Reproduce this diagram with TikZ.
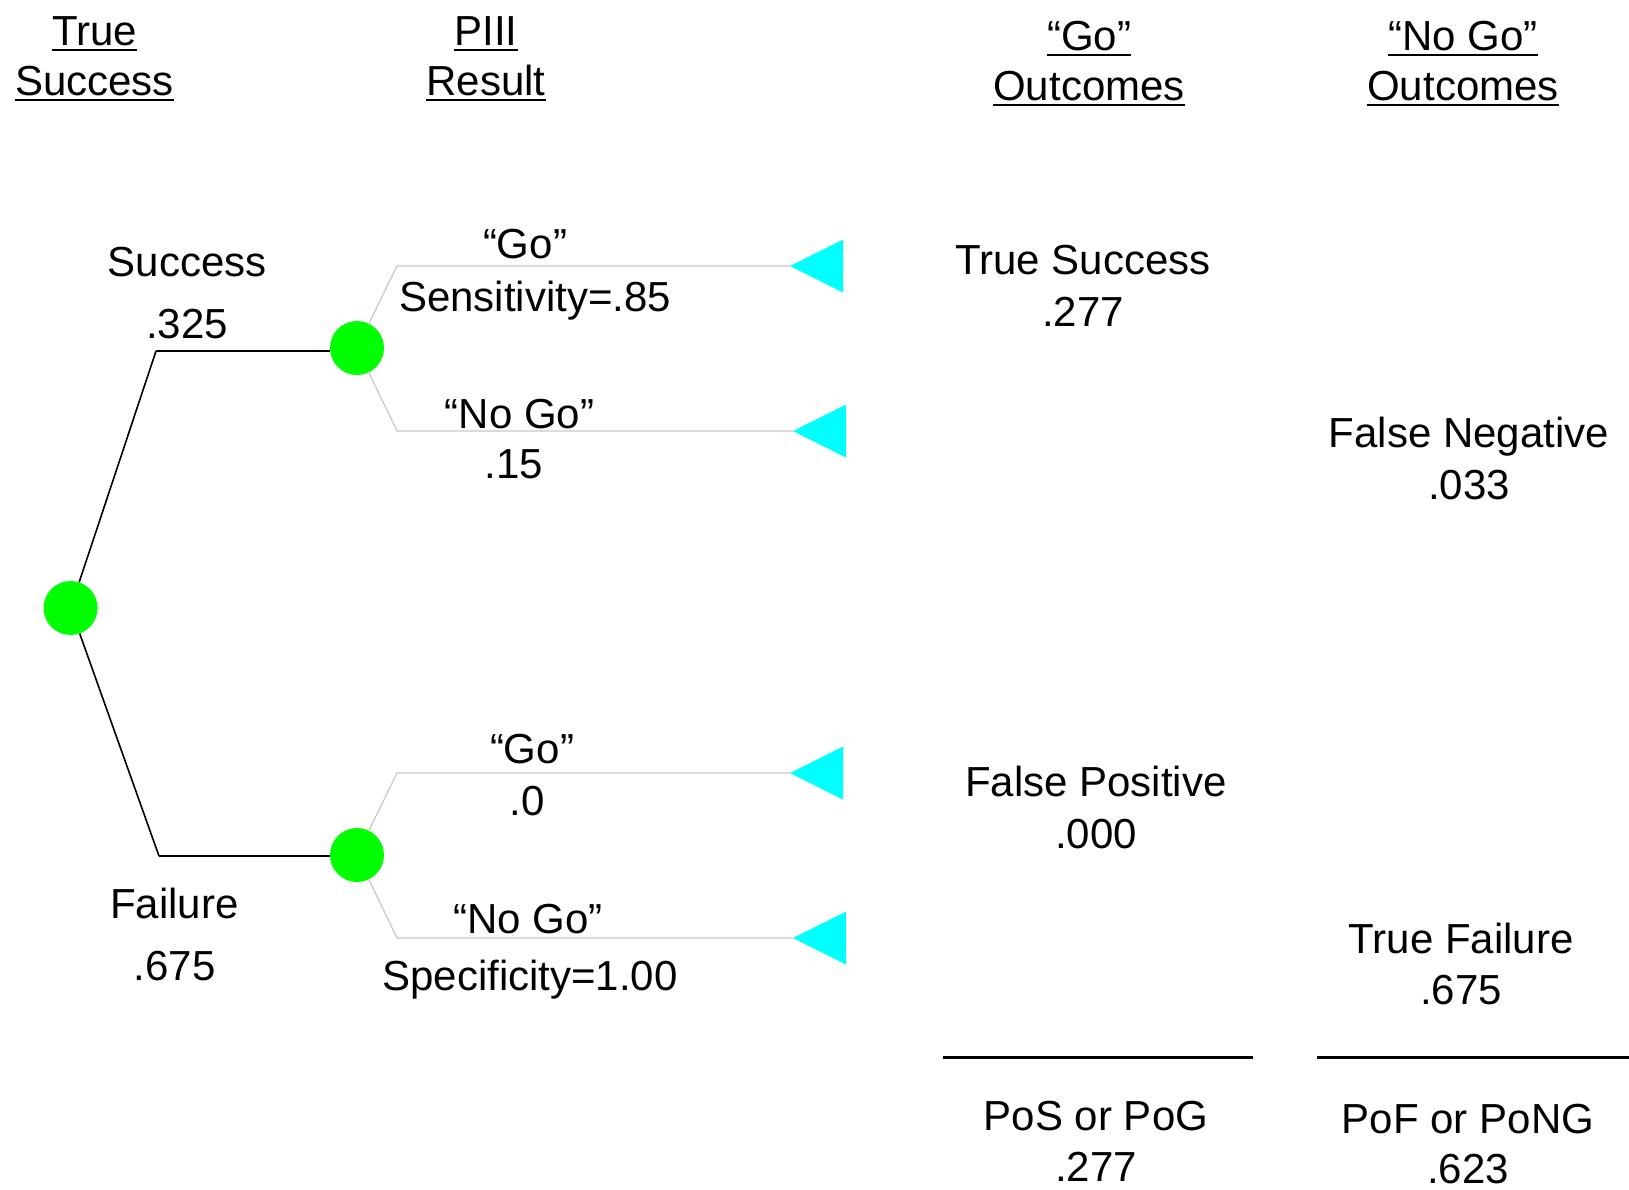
\documentclass[tikz,border=0pt]{standalone}
\usepackage{fontspec}
\setmainfont{Liberation Sans}
\definecolor{nodegreen}{HTML}{00FF00}
\definecolor{endcyan}{HTML}{00FFFF}
\definecolor{branchgray}{HTML}{C8C8C8}
\begin{document}
\begin{tikzpicture}[x=1pt,y=-1pt,
  every node/.style={font=\fontsize{42}{50}\selectfont, inner sep=0pt, anchor=base},
  chance/.style={circle, fill=nodegreen, minimum size=54pt, inner sep=0pt, anchor=center},
  mainline/.style={black, line width=2.6pt},
  slantline/.style={black, line width=1.6pt},
  branch/.style={branchgray, line width=1.2pt},
  endtri/.style={fill=endcyan},
  uline/.style={black, line width=2.6pt},
  sumline/.style={black, line width=3pt}]
\fill[white] (0,0) rectangle (1629,1189);
\useasboundingbox (0,0) rectangle (1629,1189);

% headers
\node (h1a) at (94.5,45) {True};
\node (h1b) at (94.5,95) {Success};
\node (h2a) at (486,45) {PIII};
\node (h2b) at (486,95) {Result};
\node (h3a) at (1089,50) {“Go”};
\node (h3b) at (1089,100) {Outcomes};
\node (h4a) at (1463,50) {“No Go”};
\node (h4b) at (1463,100) {Outcomes};
\foreach \h in {h1a,h1b,h2a,h2b,h3a,h3b,h4a,h4b}{
  \draw[uline] ([yshift=-5pt]\h.base west) -- ([yshift=-5pt]\h.base east);
}

% tree nodes
\node[chance] (root) at (70.6,608) {};
\node[chance] (up) at (357,348) {};
\node[chance] (lo) at (357,855) {};
\coordinate (ucorner) at (156,351);
\coordinate (lcorner) at (159,856);
\draw[slantline] (root) -- (ucorner);
\draw[mainline] (ucorner) -- (ucorner -| up.west);
\draw[slantline] (root) -- (lcorner);
\draw[mainline] (lcorner) -- (lcorner -| lo.west);

% branches
\coordinate (c1) at (397,266); \coordinate (t1) at (790,266);
\coordinate (c2) at (397,431); \coordinate (t2) at (793,431);
\coordinate (c3) at (397,773); \coordinate (t3) at (790,773);
\coordinate (c4) at (397,938); \coordinate (t4) at (793,938);
\draw[branch] (up) -- (c1) -- (t1);
\draw[branch] (up) -- (c2) -- (t2);
\draw[branch] (lo) -- (c3) -- (t3);
\draw[branch] (lo) -- (c4) -- (t4);
\foreach \t in {t1,t2,t3,t4}{
  \fill[endtri] (\t) -- ++(53,-26.5) -- ++(0,53) -- cycle;
}

% branch labels
\node (s1) at (187,276) {Success};
\node (s2) at (187,338) {.325};
\node (f1) at (174.5,918) {Failure};
\node (f2) at (174.5,980) {.675};
\node (g1) at (525,258) {“Go”};
\node (g2) at (535,311) {Sensitivity=.85};
\node (n1) at (519.5,428) {“No Go”};
\node (n2) at (514,478) {.15};
\node (g3) at (532,763) {“Go”};
\node (g4) at (527,815) {.0};
\node (n3) at (528,933) {“No Go”};
\node (n4) at (530,990) {Specificity=1.00};

% outcomes
\node (o1) at (1083,274) {True Success};
\node (o2) at (1083,326) {.277};
\node (o3) at (1469,447) {False Negative};
\node (o4) at (1469,499) {.033};
\node (o5) at (1096,796) {False Positive};
\node (o6) at (1096,848) {.000};
\node (o7) at (1461,953) {True Failure};
\node (o8) at (1461,1004) {.675};

% sums
\coordinate (l1a) at (943,1057); \coordinate (l1b) at (1253,1057);
\coordinate (l2a) at (1317,1057); \coordinate (l2b) at (1629,1057);
\draw[sumline] (l1a) -- (l1b);
\draw[sumline] (l2a) -- (l2b);
\node (p1) at (1096,1130) {PoS or PoG};
\node (p2) at (1096,1181) {.277};
\node (p3) at (1468,1133) {PoF or PoNG};
\node (p4) at (1468,1183) {.623};
\end{tikzpicture}
\end{document}
